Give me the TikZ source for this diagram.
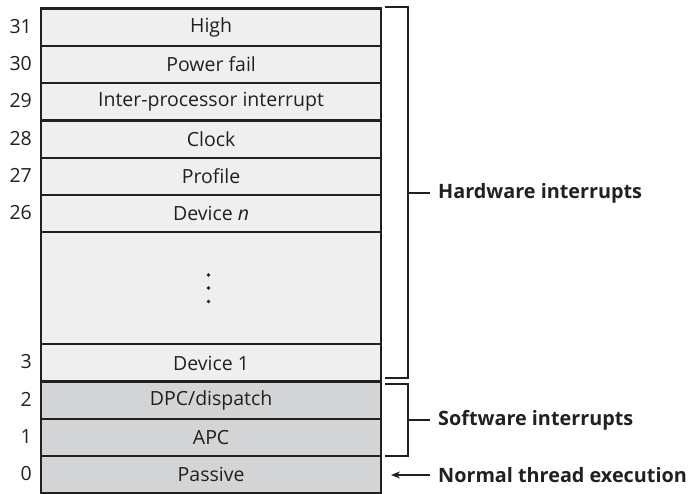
\documentclass[tikz,border=0pt]{standalone}
\usepackage{fontspec}
\setmainfont{Open Sans}
\usetikzlibrary{arrows.meta}
\definecolor{hwfill}{HTML}{EFEFEF}
\definecolor{swfill}{HTML}{D3D4D6}
\definecolor{edge}{HTML}{231F20}
\begin{document}
\begin{tikzpicture}[x=1pt,y=-1pt,
  row/.style={draw=edge,line width=2.2pt,minimum width=340pt,minimum height=37.3pt,inner sep=0pt,anchor=north west,font=\fontsize{19.5}{22}\selectfont,text=edge},
  hw/.style={row,fill=hwfill},
  sw/.style={row,fill=swfill},
  num/.style={anchor=east,font=\fontsize{19.5}{22}\selectfont,text=edge,inner sep=0pt},
  lbl/.style={anchor=west,font=\fontsize{19.8}{22}\selectfont\bfseries,text=edge,inner sep=0pt},
  brk/.style={draw=edge,line width=2pt}]
\useasboundingbox (0,0) rectangle (689,494);
% rows
\node[hw] (r31) at (40,7.5) {High};
\node[hw] (r30) at (40,44.8) {Power fail};
\node[hw] (r29) at (40,82.1) {Inter-processor interrupt};
\node[hw] (r28) at (40,119.4) {Clock};
\node[hw] (r27) at (40,156.7) {Profile};
\node[hw] (r26) at (40,194) {Device \textit{n}};
\node[hw,minimum height=111.9pt] (rbig) at (40,231.3) {};
\node[hw] (r3) at (40,343.2) {Device 1};
\node[sw] (r2) at (40,380.5) {DPC/dispatch};
\node[sw] (r1) at (40,417.8) {APC};
\node[sw] (r0) at (40,455.1) {Passive};
% dots
\foreach \yy in {275,288,301.5} \fill[edge] (208.5,\yy) circle (1.8pt);
% numbers
\node[num] (n31) at (32,26.15) {31};
\node[num] (n30) at (32,63.45) {30};
\node[num] (n29) at (32,100.75) {29};
\node[num] (n28) at (32,138.05) {28};
\node[num] (n27) at (32,175.35) {27};
\node[num] (n26) at (32,212.65) {26};
\node[num] (n3) at (32,361.85) {3};
\node[num] (n2) at (32,399.15) {2};
\node[num] (n1) at (32,436.45) {1};
\node[num] (n0) at (32,473.75) {0};
% brackets
\coordinate (hwt) at (385,7.5);
\coordinate (hwb) at (385,378);
\draw[brk] (hwt) -- (408,7.5) -- (408,378) -- (hwb);
\coordinate (hwm) at (408,193);
\node[lbl] (hwl) at (438,193) {Hardware interrupts};
\draw[brk] (hwm) -- (430,193);
\coordinate (swt) at (385,384);
\coordinate (swb) at (385,456);
\draw[brk] (swt) -- (408,384) -- (408,456) -- (swb);
\coordinate (swm) at (408,420);
\node[lbl] (swl) at (438,420) {Software interrupts};
\draw[brk] (swm) -- (430,420);
\node[lbl] (ntl) at (438,475) {Normal thread execution};
\coordinate (arrs) at (430,475);
\coordinate (arre) at (391,475);
\draw[brk,-{Stealth[length=9pt,width=7pt]}] (arrs) -- (arre);
\end{tikzpicture}
\end{document}
